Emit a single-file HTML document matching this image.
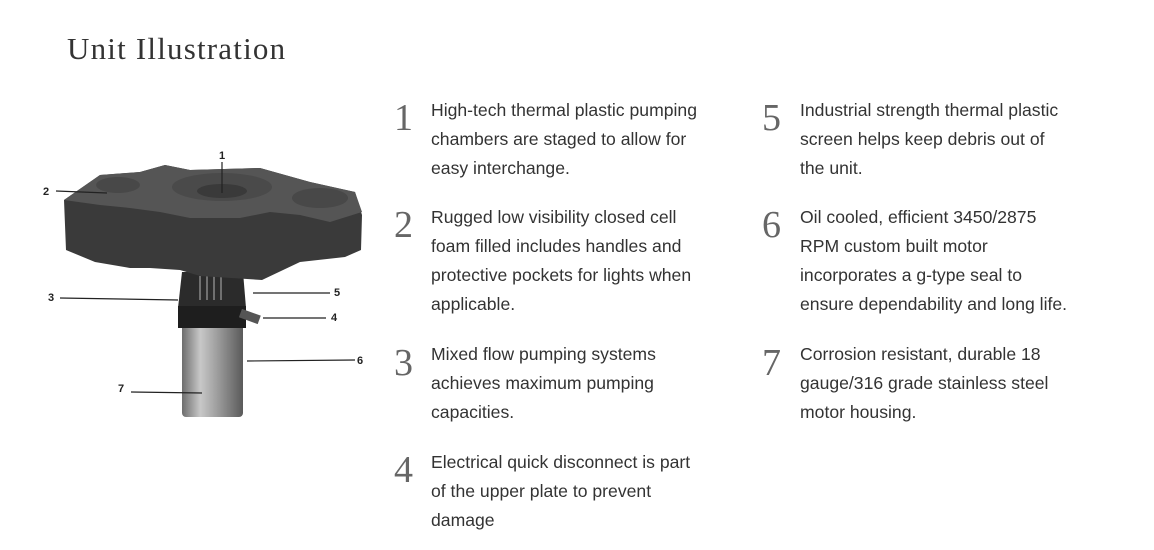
<!DOCTYPE html>
<html><head><meta charset="utf-8"><style>
body{margin:0;width:1154px;height:550px;background:#fff;position:relative;overflow:hidden;font-family:"Liberation Sans",sans-serif;}
h1{position:absolute;left:67px;top:31px;margin:0;font:400 31px "Liberation Serif",serif;letter-spacing:1.2px;color:#333;}
.n{position:absolute;font:400 38px "Liberation Serif",serif;color:#666;line-height:40px;}
.t{position:absolute;font-size:17.6px;line-height:29px;color:#333;white-space:nowrap;}
svg{position:absolute;left:0;top:0;}
</style></head><body>
<h1>Unit Illustration</h1>
<svg width="400" height="440" viewBox="0 0 400 440">
<defs>
<linearGradient id="st" x1="0" x2="1"><stop offset="0" stop-color="#6d6d6d"/><stop offset=".3" stop-color="#c8c8c8"/><stop offset=".6" stop-color="#9a9a9a"/><stop offset="1" stop-color="#5a5a5a"/></linearGradient>
</defs>
<rect x="182" y="322" width="61" height="95" rx="4" fill="url(#st)"/>
<path d="M182 272 L243 272 L246 308 L178 308 Z" fill="#2b2b2b"/>
<rect x="178" y="306" width="68" height="22" fill="#1e1e1e"/>
<rect x="240" y="312" width="20" height="9" fill="#555" transform="rotate(20 250 316)"/>
<g stroke="#888" stroke-width="1.5"><line x1="200" y1="276" x2="200" y2="300"/><line x1="207" y1="276" x2="207" y2="300"/><line x1="214" y1="276" x2="214" y2="300"/><line x1="221" y1="276" x2="221" y2="300"/></g>
<path d="M64 200 L100 175 L140 172 L165 165 L190 170 L260 168 L310 182 L355 192 L362 215 L361 250 L345 257 L300 262 L262 280 L200 276 L180 270 L150 268 L130 268 L95 262 L66 250 Z" fill="#3a3a3a"/>
<path d="M64 200 L100 175 L140 172 L165 165 L190 170 L260 168 L310 182 L355 192 L362 212 L330 222 L300 215 L270 212 L240 218 L190 218 L160 212 L130 208 L100 205 Z" fill="#555"/>
<ellipse cx="222" cy="187" rx="50" ry="14" fill="#4a4a4a"/>
<ellipse cx="222" cy="191" rx="25" ry="7" fill="#3a3a3a"/>
<ellipse cx="320" cy="198" rx="28" ry="10" fill="#484848"/>
<ellipse cx="118" cy="185" rx="22" ry="8" fill="#484848"/>
<g stroke="#222" stroke-width="1.2" fill="none">
<line x1="222" y1="162" x2="222" y2="193"/>
<line x1="56" y1="191" x2="107" y2="193"/>
<line x1="60" y1="298" x2="178" y2="300"/>
<line x1="253" y1="293" x2="330" y2="293"/>
<line x1="263" y1="318" x2="326" y2="318"/>
<line x1="247" y1="361" x2="355" y2="360"/>
<line x1="131" y1="392" x2="202" y2="393"/>
</g>
<g font-family="Liberation Sans,sans-serif" font-size="11" font-weight="bold" fill="#222">
<text x="219" y="159">1</text><text x="43" y="195">2</text><text x="48" y="301">3</text>
<text x="334" y="296">5</text><text x="331" y="321">4</text><text x="357" y="364">6</text><text x="118" y="392">7</text>
</g>
</svg>
<div class="n" style="left:394px;top:98px">1</div>
<div class="t" style="left:431px;top:96px">High-tech thermal plastic pumping<br>chambers are staged to allow for<br>easy interchange.</div>
<div class="n" style="left:394px;top:205px">2</div>
<div class="t" style="left:431px;top:203px">Rugged low visibility closed cell<br>foam filled includes handles and<br>protective pockets for lights when<br>applicable.</div>
<div class="n" style="left:394px;top:343px">3</div>
<div class="t" style="left:431px;top:340px">Mixed flow pumping systems<br>achieves maximum pumping<br>capacities.</div>
<div class="n" style="left:394px;top:450px">4</div>
<div class="t" style="left:431px;top:448px">Electrical quick disconnect is part<br>of the upper plate to prevent<br>damage</div>
<div class="n" style="left:762px;top:98px">5</div>
<div class="t" style="left:800px;top:96px">Industrial strength thermal plastic<br>screen helps keep debris out of<br>the unit.</div>
<div class="n" style="left:762px;top:205px">6</div>
<div class="t" style="left:800px;top:203px">Oil cooled, efficient 3450/2875<br>RPM custom built motor<br>incorporates a g-type seal to<br>ensure dependability and long life.</div>
<div class="n" style="left:762px;top:343px">7</div>
<div class="t" style="left:800px;top:340px">Corrosion resistant, durable 18<br>gauge/316 grade stainless steel<br>motor housing.</div>
</body></html>
